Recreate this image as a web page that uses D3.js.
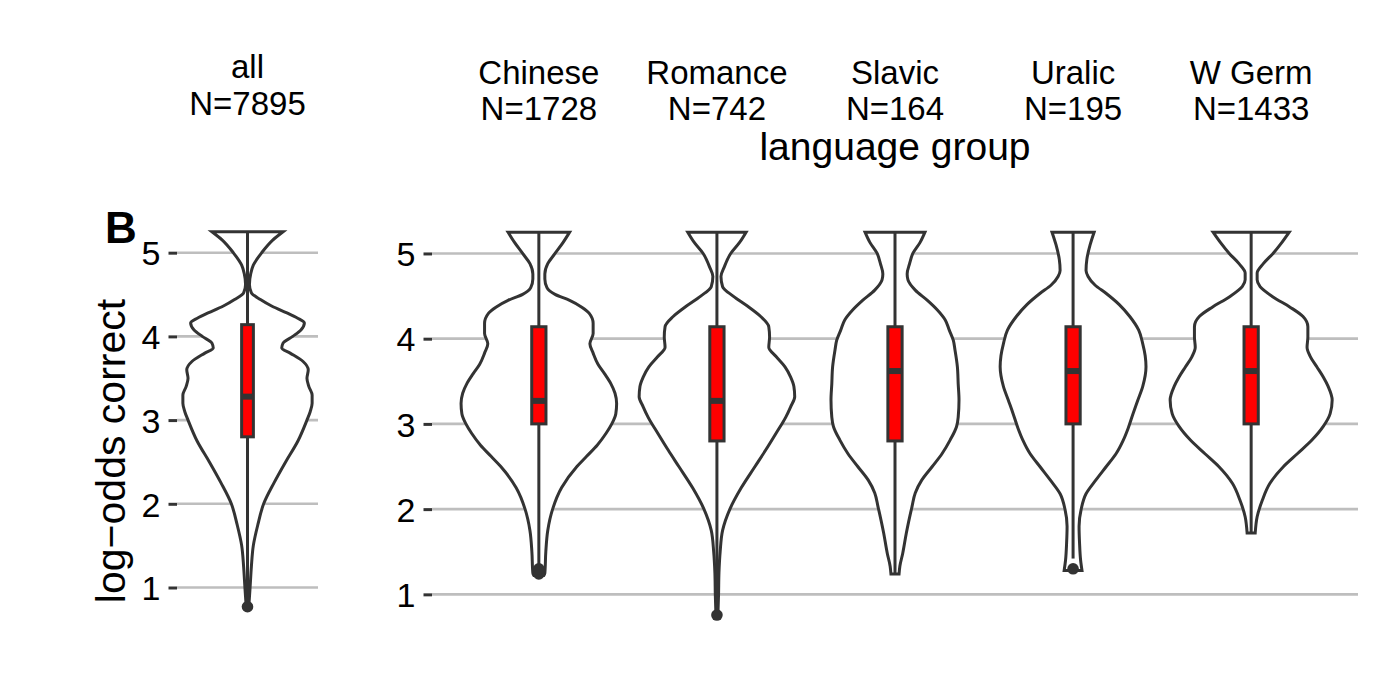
<!DOCTYPE html>
<html>
<head>
<meta charset="utf-8">
<script src="https://cdn.jsdelivr.net/npm/d3@7"></script>
<style>
  body { margin: 0; background: #fff; }
  text { font-family: "Liberation Sans", Arial, Helvetica, sans-serif; fill: #000; }
  .grid line { stroke: #bebebe; stroke-width: 2.6; }
  .violin { fill: #fff; stroke: #333; stroke-width: 3; }
  .whisker { stroke: #333; stroke-width: 3; }
  .box { fill: #ff0000; stroke: #333; stroke-width: 3; }
  .median { stroke: #333; stroke-width: 6; }
  .outlier { fill: #333; }
</style>
</head>
<body>
<svg id="chart" width="1400" height="678"></svg>
<script>
// categories and counts
const allGroups = ["all"];
const allCounts = [7895];
const langGroups = ["Chinese", "Romance", "Slavic", "Uralic", "W Germ"];
const langCounts = [1728, 742, 164, 195, 1433];
const yTicks = [1, 2, 3, 4, 5];

// box statistics (log-odds correct)
const allQ1 = [2.80], allMedian = [3.28], allQ3 = [4.14];
const allWhiskerLow = [0.82], allWhiskerHigh = [5.25];
const allOutliers = [[0.77]];

const langQ1 = [3.00, 2.80, 2.80, 3.00, 3.00];
const langMedian = [3.27, 3.27, 3.62, 3.62, 3.62];
const langQ3 = [4.14, 4.14, 4.14, 4.14, 4.14];
const langWhiskerLow = [1.32, 0.80, 1.24, 1.42, 1.72];
const langWhiskerHigh = [5.25, 5.25, 5.25, 5.25, 5.25];
const langOutliers = [[1.24, 1.27, 1.30], [0.757], [], [1.30], []];

// violin densities: [value, relative density], top to bottom
const densityAll = [
    [5.25, 0.55], [5.15, 0.39], [5.0, 0.22], [4.85, 0.09], [4.75, 0.05], [4.62, 0.03],
    [4.52, 0.06], [4.44, 0.20], [4.36, 0.38], [4.28, 0.61], [4.22, 0.77], [4.16, 0.88],
    [4.08, 0.83], [4.0, 0.70], [3.92, 0.55], [3.86, 0.53], [3.8, 0.66], [3.7, 0.86],
    [3.6, 0.94], [3.5, 0.92], [3.4, 0.95], [3.3, 1.0], [3.2, 1.0], [3.1, 0.97],
    [3.0, 0.92], [2.75, 0.78], [2.5, 0.59], [2.25, 0.41], [2.0, 0.25], [1.75, 0.16],
    [1.5, 0.09], [1.25, 0.06], [1.0, 0.04], [0.77, 0.02]
];
const densityChinese = [
    [5.25, 0.38], [5.13, 0.30], [5.0, 0.20], [4.88, 0.11], [4.76, 0.074], [4.7, 0.074],
    [4.6, 0.10], [4.52, 0.20], [4.45, 0.38], [4.37, 0.53], [4.3, 0.62], [4.18, 0.67],
    [4.06, 0.67], [3.94, 0.63], [3.83, 0.67], [3.7, 0.73], [3.59, 0.81], [3.47, 0.89],
    [3.36, 0.94], [3.24, 0.96], [3.12, 0.95], [3.0, 0.90], [2.89, 0.83], [2.75, 0.72],
    [2.62, 0.59], [2.5, 0.47], [2.25, 0.28], [2.0, 0.17], [1.75, 0.11], [1.5, 0.086],
    [1.25, 0.074], [1.22, 0.06]
];
const densityRomance = [
    [5.25, 0.36], [5.13, 0.28], [5.0, 0.17], [4.84, 0.09], [4.73, 0.05], [4.61, 0.07],
    [4.5, 0.20], [4.38, 0.38], [4.26, 0.54], [4.14, 0.64], [4.02, 0.65], [3.9, 0.64],
    [3.79, 0.73], [3.67, 0.84], [3.55, 0.91], [3.44, 0.95], [3.32, 0.96], [3.2, 0.91],
    [3.08, 0.85], [2.89, 0.73], [2.69, 0.60], [2.5, 0.47], [2.25, 0.30], [2.0, 0.16],
    [1.75, 0.07], [1.5, 0.04], [1.25, 0.025], [1.0, 0.02], [0.757, 0.012]
];
const densitySlavic = [
    [5.25, 0.37], [5.13, 0.31], [5.0, 0.22], [4.88, 0.18], [4.76, 0.15], [4.69, 0.16],
    [4.57, 0.25], [4.45, 0.40], [4.34, 0.52], [4.22, 0.62], [4.1, 0.67], [3.98, 0.72],
    [3.87, 0.74], [3.67, 0.77], [3.47, 0.78], [3.28, 0.79], [3.08, 0.78], [2.97, 0.76],
    [2.81, 0.68], [2.65, 0.58], [2.5, 0.46], [2.34, 0.33], [2.19, 0.25], [2.03, 0.21],
    [1.72, 0.14], [1.48, 0.095], [1.33, 0.06], [1.24, 0.05]
];
const densityUralic = [
    [5.25, 0.26], [5.1, 0.21], [4.93, 0.17], [4.8, 0.16], [4.73, 0.185], [4.63, 0.27],
    [4.53, 0.41], [4.4, 0.57], [4.26, 0.70], [4.1, 0.81], [3.94, 0.86], [3.8, 0.89],
    [3.67, 0.90], [3.44, 0.86], [3.28, 0.80], [3.12, 0.74], [2.95, 0.68], [2.81, 0.62],
    [2.65, 0.53], [2.5, 0.41], [2.34, 0.28], [2.18, 0.16], [2.0, 0.10], [1.8, 0.074],
    [1.6, 0.08], [1.4, 0.093], [1.28, 0.11]
];
const densityWGerm = [
    [5.25, 0.47], [5.13, 0.38], [5.0, 0.27], [4.88, 0.15], [4.77, 0.074], [4.69, 0.074],
    [4.61, 0.11], [4.49, 0.27], [4.37, 0.48], [4.26, 0.64], [4.14, 0.70], [4.02, 0.70],
    [3.9, 0.69], [3.79, 0.73], [3.67, 0.81], [3.55, 0.89], [3.44, 0.95], [3.28, 1.0],
    [3.12, 0.975], [2.97, 0.89], [2.81, 0.75], [2.65, 0.57], [2.5, 0.40], [2.3, 0.23],
    [2.11, 0.14], [1.91, 0.074], [1.72, 0.05]
];
const allDensities = [densityAll];
const langDensities = [densityChinese, densityRomance, densitySlavic, densityUralic, densityWGerm];

// layout
const config = {
    width: 1400,
    height: 678,
    left: { x0: 177, x1: 318, top: 213, bottom: 625.5, violinHalf: 0.55, boxHalf: 0.05 },
    right: { x0: 432, x1: 1358, top: 213, bottom: 634.2, violinHalf: 0.455, boxHalf: 0.04 }
};

const svg = d3.select("#chart");

function expandedDomain(densities, outliers) {
    // 5% padding like ggplot's continuous scale
    const values = densities.flat().map(d => d[0]).concat(outliers.flat());
    const [lo, hi] = d3.extent(values);
    const pad = (hi - lo) * 0.05;
    return [lo - pad, hi + pad];
}

function drawPanel(p, groups, counts, densities, q1, med, q3, wLow, wHigh, outliers, stripY) {
    const x = d3.scalePoint().domain(groups).range([p.x0, p.x1]).padding(0.6);
    const y = d3.scaleLinear()
        .domain(expandedDomain(densities, outliers))
        .range([p.bottom, p.top]);
    const step = x.step();
    const w = d3.scaleLinear().domain([0, 1]).range([0, p.violinHalf * step]);
    const boxHalf = p.boxHalf * step;

    const g = svg.append("g");

    // gridlines
    g.append("g").attr("class", "grid")
        .selectAll("line").data(yTicks).enter().append("line")
        .attr("x1", p.x0).attr("x2", p.x1)
        .attr("y1", d => y(d)).attr("y2", d => y(d));

    // axis
    const axis = g.append("g")
        .attr("transform", `translate(${p.x0},0)`)
        .call(d3.axisLeft(y).tickValues(yTicks).tickSize(8.5).tickPadding(8).tickFormat(d3.format("d")));
    axis.select(".domain").remove();
    axis.selectAll(".tick line").attr("stroke", "#333").attr("stroke-width", 3);
    axis.selectAll(".tick text").attr("font-size", 34).attr("fill", "#000").attr("dy", "0.36em");

    // violins
    groups.forEach((grp, i) => {
        const cx = x(grp);
        const area = d3.area()
            .y(d => y(d[0]))
            .x0(d => cx - w(d[1]))
            .x1(d => cx + w(d[1]))
            .curve(d3.curveMonotoneY);
        g.append("path").attr("class", "violin").attr("d", area(densities[i]));
    });

    // boxplots
    groups.forEach((grp, i) => {
        const cx = x(grp);
        g.append("line").attr("class", "whisker")
            .attr("x1", cx).attr("x2", cx).attr("y1", y(wHigh[i])).attr("y2", y(q3[i]));
        g.append("line").attr("class", "whisker")
            .attr("x1", cx).attr("x2", cx).attr("y1", y(q1[i])).attr("y2", y(wLow[i]));
        g.append("rect").attr("class", "box")
            .attr("x", cx - boxHalf).attr("width", boxHalf * 2)
            .attr("y", y(q3[i])).attr("height", y(q1[i]) - y(q3[i]));
        g.append("line").attr("class", "median")
            .attr("x1", cx - boxHalf).attr("x2", cx + boxHalf)
            .attr("y1", y(med[i])).attr("y2", y(med[i]));
        g.selectAll(null).data(outliers[i]).enter().append("circle")
            .attr("class", "outlier")
            .attr("cx", cx).attr("cy", d => y(d)).attr("r", 5.8);
    });

    // strip labels: name and N
    const strip = g.selectAll(".strip").data(groups).enter().append("text")
        .attr("class", "strip")
        .attr("text-anchor", "middle")
        .attr("font-size", 33)
        .attr("x", d => x(d));
    strip.append("tspan").attr("x", d => x(d)).attr("y", stripY[0]).text(d => d);
    strip.append("tspan").attr("x", d => x(d)).attr("y", stripY[1]).text((d, i) => "N=" + counts[i]);

    return { x, y };
}

drawPanel(config.left, allGroups, allCounts, allDensities,
    allQ1, allMedian, allQ3, allWhiskerLow, allWhiskerHigh, allOutliers, [78, 115]);
drawPanel(config.right, langGroups, langCounts, langDensities,
    langQ1, langMedian, langQ3, langWhiskerLow, langWhiskerHigh, langOutliers, [84, 120]);

// axis titles
svg.append("text")
    .attr("text-anchor", "middle")
    .attr("font-size", 39)
    .attr("x", (config.right.x0 + config.right.x1) / 2)
    .attr("y", 160)
    .text("language group");

svg.append("text")
    .attr("text-anchor", "middle")
    .attr("font-size", 41)
    .attr("transform", "translate(125,451) rotate(-90)")
    .text("log\u2212odds correct");

// panel tag
svg.append("text")
    .attr("font-size", 44)
    .attr("font-weight", "bold")
    .attr("x", 105)
    .attr("y", 243)
    .text("B");
</script>
</body>
</html>
